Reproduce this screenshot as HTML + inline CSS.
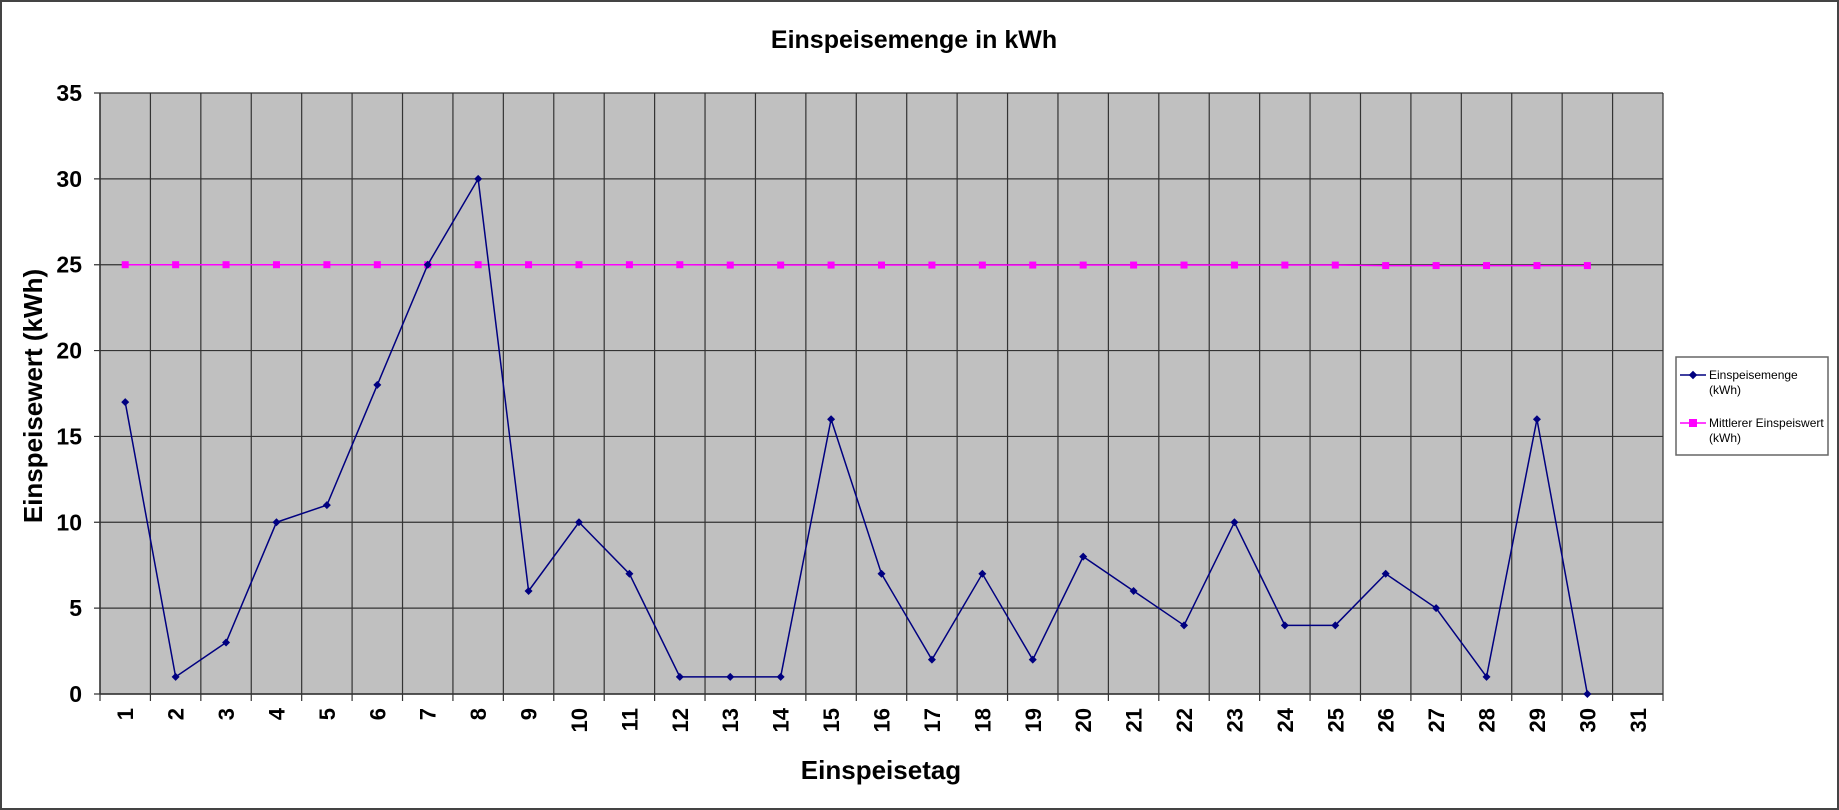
<!DOCTYPE html>
<html><head><meta charset="utf-8"><style>
body{margin:0;background:#fff;}
svg{display:block;font-family:"Liberation Sans",Arial,sans-serif;}
</style></head><body>
<svg id="chart" width="1839" height="810">
<rect x="1" y="1" width="1837" height="808" fill="#fff" stroke="#444" stroke-width="2"/>
<text x="914" y="48" text-anchor="middle" font-size="25" font-weight="bold">Einspeisemenge in kWh</text>
<rect x="100" y="93" width="1563" height="601" fill="#c0c0c0"/>
<g id="grid"></g>
<g id="series"></g>
<text transform="translate(42,396) rotate(-90)" text-anchor="middle" font-size="26" font-weight="bold">Einspeisewert  (kWh)</text>
<text x="881" y="779" text-anchor="middle" font-size="26" font-weight="bold">Einspeisetag</text>
<g>
<rect x="1676" y="357" width="152" height="98" fill="#fff" stroke="#666" stroke-width="1.5"/>
<line x1="1680" y1="375" x2="1706" y2="375" stroke="#000080" stroke-width="1.5"/>
<rect x="1690" y="372" width="6" height="6" fill="#000080" transform="rotate(45 1693 375)"/>
<text x="1709" y="379" font-size="12" fill="#000"><tspan>Einspeisemenge</tspan><tspan x="1709" dy="15">(kWh)</tspan></text>
<line x1="1680" y1="423" x2="1706" y2="423" stroke="#ff00ff" stroke-width="1.5"/>
<rect x="1689" y="419" width="8" height="8" fill="#ff00ff"/>
<text x="1709" y="427" font-size="12" fill="#000"><tspan>Mittlerer Einspeiswert</tspan><tspan x="1709" dy="15">(kWh)</tspan></text>
</g>
</svg>
<script>
const categories=[1,2,3,4,5,6,7,8,9,10,11,12,13,14,15,16,17,18,19,20,21,22,23,24,25,26,27,28,29,30,31];
const einspeisemenge=[17,1,3,10,11,18,25,30,6,10,7,1,1,1,16,7,2,7,2,8,6,4,10,4,4,7,5,1,16,0];
const mittel=[25,25,25,25,25,25,25,25,25,25,25,25,24.98,24.98,24.98,24.98,24.98,24.98,24.98,24.98,24.98,24.98,24.98,24.98,24.98,24.95,24.95,24.95,24.95,24.95];
const yTicks=[0,5,10,15,20,25,30,35];
const NS='http://www.w3.org/2000/svg';
const L=100,R=1663,T=93,B=694,yMax=35;
const cw=(R-L)/categories.length;
function xs(i){return L+cw*(i+0.5);}
function ys(v){return B-(v/yMax)*(B-T);}
function mk(tag,attrs,parent){const e=document.createElementNS(NS,tag);for(const k in attrs)e.setAttribute(k,attrs[k]);parent.appendChild(e);return e;}
const grid=document.getElementById('grid'),ser=document.getElementById('series');
yTicks.forEach(v=>{
 const y=ys(v);
 const l=mk('line',{x1:L-6,x2:R,y1:y,y2:y,stroke:'#333','stroke-width':1.2},grid);
 
 
 const t=mk('text',{x:82,y:y+8,'text-anchor':'end','font-size':23,'font-weight':'bold'},grid);
 t.textContent=v;
 
 
});
for(let i=0;i<=categories.length;i++){
 const x=L+cw*i;
 const l=mk('line',{x1:x,x2:x,y1:T,y2:B+7,stroke:'#333','stroke-width':1.2},grid);
 
 
}
categories.forEach((c,i)=>{
 const x=xs(i);
 const t=mk('text',{transform:`translate(${x+8},${708}) rotate(-90)`,'text-anchor':'end','font-size':22,'font-weight':'bold'},grid);
 t.textContent=c;
 
 
});
mk('line',{x1:L,x2:L,y1:T,y2:B,stroke:'#333','stroke-width':1.5},grid);
mk('line',{x1:L,x2:R,y1:B,y2:B,stroke:'#333','stroke-width':1.5},grid);
const pm=mk('polyline',{points:mittel.map((v,i)=>xs(i)+','+ys(v)).join(' '),fill:'none',stroke:'#ff00ff','stroke-width':1.5},ser);


mittel.forEach((v,i)=>{
 const r=mk('rect',{x:xs(i)-3.5,y:ys(v)-3.5,width:7,height:7,fill:'#ff00ff'},ser);
 
 
});
const pe=mk('polyline',{points:einspeisemenge.map((v,i)=>xs(i)+','+ys(v)).join(' '),fill:'none',stroke:'#000080','stroke-width':1.5},ser);


einspeisemenge.forEach((v,i)=>{
 const x=xs(i),y=ys(v);
 const r=mk('polygon',{points:`${x},${y-4} ${x+4},${y} ${x},${y+4} ${x-4},${y}`,fill:'#000080'},ser);
 
 
});
</script>
</body></html>
